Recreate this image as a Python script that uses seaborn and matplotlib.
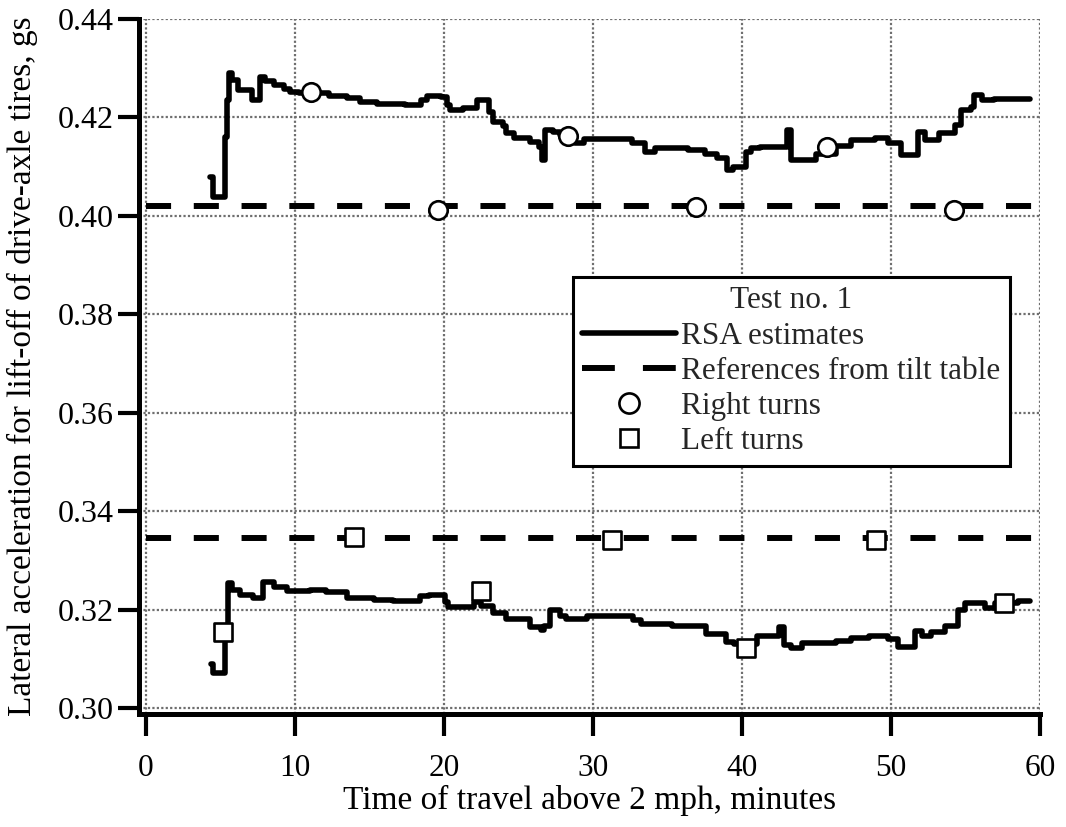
import numpy as np
import pandas as pd
import matplotlib
matplotlib.use("Agg")
import matplotlib.pyplot as plt
import seaborn as sns
from matplotlib.lines import Line2D

# ---------------- data ----------------
upper_x = [4.3, 4.5, 5.2, 5.3, 5.45, 5.6, 5.8, 6.2, 7.1, 7.7, 8.0, 8.6, 9.3, 9.7, 10.3,
           11.8, 12.3, 13.5, 14.4, 15.5, 17.4, 18.5, 18.9, 19.8, 20.2, 20.4, 21.3, 22.2,
           23.0, 23.3, 24.0, 24.2, 24.7, 25.8, 26.4, 26.6, 26.8, 27.3, 27.8, 28.8, 29.4,
           32.6, 33.5, 34.2, 36.4, 37.5, 38.3, 39.0, 39.4, 40.3, 40.6, 41.2, 43.0, 43.3,
           45.0, 46.3, 47.3, 48.9, 49.8, 50.7, 51.8, 52.3, 53.2, 54.3, 54.7, 55.4, 55.6,
           56.1, 56.9, 59.3]
upper_y = [0.408, 0.4039, 0.4039, 0.416, 0.4236, 0.429, 0.4276, 0.4256, 0.4236, 0.4282,
           0.4274, 0.4266, 0.4258, 0.4252, 0.4250, 0.4250, 0.4243, 0.4240, 0.4232, 0.4228,
           0.4226, 0.4236, 0.4244, 0.4242, 0.4225, 0.4215, 0.4220, 0.4236, 0.4212, 0.4190,
           0.4182, 0.4168, 0.4158, 0.4150, 0.4140, 0.4114, 0.4175, 0.4170, 0.4165, 0.4148,
           0.4156, 0.4148, 0.4130, 0.4138, 0.4134, 0.4126, 0.4118, 0.4093, 0.4100, 0.4130,
           0.4138, 0.4140, 0.4175, 0.4114, 0.4125, 0.4142, 0.4155, 0.4158, 0.4148, 0.4124,
           0.4170, 0.4155, 0.4168, 0.4185, 0.4215, 0.4222, 0.4246, 0.4236, 0.4238, 0.4238]

lower_x = [4.4, 4.5, 5.2, 5.3, 5.5, 5.8, 6.3, 7.2, 7.9, 8.6, 9.5, 11.0, 12.1, 13.5, 15.3,
           16.6, 18.4, 19.0, 20.1, 20.3, 22.0, 22.5, 23.3, 24.2, 25.8, 26.5, 26.7, 27.1,
           27.8, 28.2, 29.6, 32.7, 33.2, 35.3, 37.6, 38.9, 39.5, 41.0, 42.5, 42.8, 43.3,
           44.0, 46.3, 47.3, 48.5, 49.8, 50.5, 51.6, 52.1, 52.7, 53.6, 54.5, 55.0, 56.3,
           57.0, 58.5, 59.3]
lower_y = [0.3089, 0.3072, 0.3072, 0.3154, 0.3255, 0.3240, 0.3230, 0.3224, 0.3257, 0.3247,
           0.3237, 0.3240, 0.3235, 0.3224, 0.3220, 0.3217, 0.3227, 0.3230, 0.3215, 0.3206,
           0.3215, 0.3208, 0.3194, 0.3180, 0.3164, 0.3158, 0.3166, 0.3200, 0.3188, 0.3180,
           0.3187, 0.3178, 0.3170, 0.3166, 0.3150, 0.3135, 0.3131, 0.3146, 0.3164, 0.3128,
           0.3122, 0.3133, 0.3136, 0.3143, 0.3146, 0.3140, 0.3125, 0.3156, 0.3146, 0.3154,
           0.3166, 0.3200, 0.3214, 0.3204, 0.3214, 0.3217, 0.3217]

ref_x = [0, 60]
ref_right = 0.402
ref_left = 0.3345

right_x = [11.1, 19.6, 28.3, 36.9, 45.7, 54.2]
right_y = [0.4252, 0.4012, 0.4163, 0.4018, 0.4140, 0.4012]

left_x = [5.2, 14.0, 22.5, 31.3, 40.3, 49.0, 57.6]
left_y = [0.3154, 0.3348, 0.3237, 0.3342, 0.3123, 0.3342, 0.3214]

x_ticks = [0, 10, 20, 30, 40, 50, 60]
y_ticks = [0.30, 0.32, 0.34, 0.36, 0.38, 0.40, 0.42, 0.44]
y_tick_labels = ["0.30", "0.32", "0.34", "0.36", "0.38", "0.40", "0.42", "0.44"]

x_label = "Time of travel above 2 mph, minutes"
y_label = "Lateral acceleration for lift-off of drive-axle tires, gs"
legend_title = "Test no. 1"
legend_labels = ["RSA estimates", "References from tilt table", "Right turns", "Left turns"]

# ---------------- style ----------------
sns.set_theme(style="white")
plt.rcParams["font.family"] = ["Liberation Serif", "DejaVu Serif"]

W, H = 1066, 827
fig = plt.figure(figsize=(W / 100, H / 100), dpi=100)
L, R, T, B = 139, 1040, 19, 714
ax = fig.add_axes([L / W, 1 - B / H, (R - L) / W, (B - T) / H])

RSA_LW = 4.0
REF_LW = 4.3

sns.lineplot(x=upper_x, y=upper_y, ax=ax, color="black", linewidth=RSA_LW,
             drawstyle="steps-post", estimator=None, sort=False, zorder=3)
sns.lineplot(x=lower_x, y=lower_y, ax=ax, color="black", linewidth=RSA_LW,
             drawstyle="steps-post", estimator=None, sort=False, zorder=3)

for ref in (ref_right, ref_left):
    sns.lineplot(x=ref_x, y=[ref, ref], ax=ax, color="black", linewidth=REF_LW,
                 linestyle=(0, (4.2, 3.8)), estimator=None, sort=False, zorder=3)

sns.scatterplot(x=right_x, y=right_y, ax=ax, marker="o", s=177, color="white",
                edgecolor="black", linewidth=1.9, zorder=5)
sns.scatterplot(x=left_x, y=left_y, ax=ax, marker="s", s=159, color="white",
                edgecolor="black", linewidth=1.9, zorder=5)

ax.set_xlim(-0.45, 60)
ax.set_ylim(0.2988, 0.44)
ax.set_xticks(x_ticks)
ax.set_xticklabels([str(v) for v in x_ticks])
ax.set_yticks(y_ticks)
ax.set_yticklabels(y_tick_labels)

ax.grid(True, color="#6e6e6e", linestyle=(0, (1, 1)), linewidth=1.6)
ax.set_axisbelow(True)

for s in ("top", "right"):
    ax.spines[s].set_visible(False)
for s in ("left", "bottom"):
    ax.spines[s].set_linewidth(3.6)
    ax.spines[s].set_color("black")

ax.tick_params(axis="x", direction="out", length=16, width=3, pad=13,
               labelsize=22.5, colors="black", bottom=True)
ax.tick_params(axis="y", direction="out", length=15, width=3, pad=3.5,
               labelsize=23, colors="black", left=True)

ax.set_xlabel(x_label, fontsize=24, color="black")
ax.set_ylabel(y_label, fontsize=24, color="black")
ax.xaxis.set_label_coords(0.5, (B - 785) / (B - T))
ax.yaxis.set_label_coords((38 - L) / (R - L), 0.5)

handles = [
    Line2D([], [], color="black", linewidth=RSA_LW),
    Line2D([], [], color="black", linewidth=REF_LW, linestyle=(0, (5.5, 4.7))),
    Line2D([], [], linestyle="none", marker="o", markersize=14.5,
           markerfacecolor="white", markeredgecolor="black", markeredgewidth=1.9),
    Line2D([], [], linestyle="none", marker="s", markersize=12.6,
           markerfacecolor="white", markeredgecolor="black", markeredgewidth=1.9),
]
leg = ax.legend(handles, legend_labels, title=legend_title, fontsize=22.5,
                title_fontsize=22.5, loc="upper left",
                bbox_to_anchor=((573 - L) / (R - L), (B - 277) / (B - T)),
                borderaxespad=0, borderpad=0.3, labelspacing=0.2,
                handlelength=3.0, handletextpad=0.16, frameon=True,
                fancybox=False, framealpha=1, edgecolor="black")
leg.get_frame().set_linewidth(2.2)
leg.set_zorder(10)

fig.savefig("out.png", dpi=100)
